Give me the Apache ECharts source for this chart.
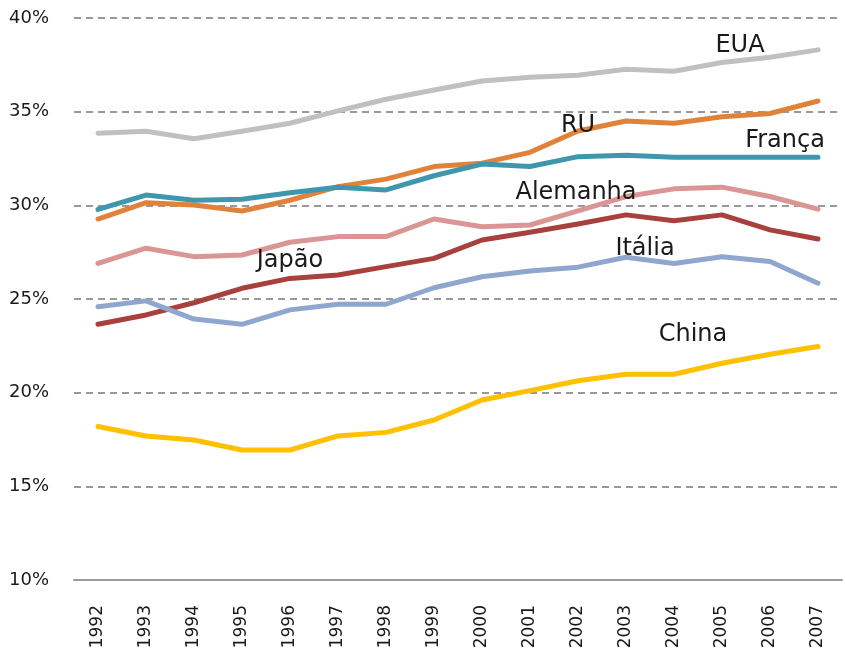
<!DOCTYPE html>
<html>
<head>
<meta charset="utf-8">
<script src="https://cdn.jsdelivr.net/npm/echarts@6/dist/echarts.min.js"></script>
<style>
  html, body { margin: 0; padding: 0; background: #fff; }
  #chart { width: 845px; height: 656px; }
</style>
</head>
<body>
<div id="chart"></div>
<script>
// dados (% )
const anos = ['1992', '1993', '1994', '1995', '1996', '1997', '1998', '1999',
  '2000', '2001', '2002', '2003', '2004', '2005', '2006', '2007'];

const eua = [33.85, 33.95, 33.55, 33.95, 34.38, 35.04, 35.66, 36.16, 36.64, 36.84, 36.94, 37.26, 37.16, 37.62, 37.9, 38.3];
const ru = [29.27, 30.14, 30.02, 29.7, 30.27, 31.0, 31.4, 32.07, 32.25, 32.83, 33.97, 34.5, 34.38, 34.73, 34.9, 35.57];
const franca = [29.78, 30.55, 30.27, 30.33, 30.67, 30.96, 30.82, 31.58, 32.2, 32.07, 32.6, 32.67, 32.57, 32.57, 32.57, 32.57];
const alemanha = [26.9, 27.71, 27.26, 27.35, 28.03, 28.33, 28.33, 29.27, 28.86, 28.95, 29.7, 30.47, 30.88, 30.97, 30.47, 29.8];
const japao = [23.65, 24.15, 24.8, 25.57, 26.1, 26.28, 26.73, 27.17, 28.15, 28.56, 29.0, 29.49, 29.18, 29.49, 28.69, 28.2];
const italia = [24.59, 24.9, 23.93, 23.65, 24.42, 24.72, 24.72, 25.6, 26.19, 26.5, 26.7, 27.23, 26.9, 27.26, 27.0, 25.84];
const china = [18.19, 17.69, 17.47, 16.94, 16.94, 17.69, 17.88, 18.54, 19.61, 20.11, 20.64, 20.98, 20.98, 21.57, 22.05, 22.46];

// rótulos das séries: [ano, valor, deslocamento x]
const rotulos = {
  EUA: ['2005', 38.62, 18],
  RU: ['2002', 34.35, 0],
  'França': ['2006', 33.55, 15],
  Alemanha: ['2002', 30.77, -2],
  'Japão': ['1996', 27.14, 0],
  'Itália': ['2003', 27.78, 19],
  China: ['2004', 23.19, 19]
};

const fonte = '"DejaVu Sans", sans-serif';

function serie(nome, dados, cor) {
  const r = rotulos[nome];
  return {
    name: nome,
    type: 'line',
    data: dados,
    symbol: 'none',
    lineStyle: { width: 5, color: cor, cap: 'round', join: 'round' },
    itemStyle: { color: cor },
    markPoint: {
      symbol: 'circle',
      symbolSize: 0,
      silent: true,
      data: [{
        coord: [r[0], r[1]],
        label: {
          show: true,
          position: 'inside',
          offset: [r[2], 2],
          formatter: nome,
          color: '#1a1a1a',
          fontSize: 24,
          fontFamily: fonte
        }
      }]
    }
  };
}

const myChart = echarts.init(document.getElementById('chart'), null, { renderer: 'canvas' });

const option = {
  backgroundColor: '#fff',
  animation: false,
  grid: { left: 74, right: 3, top: 18, bottom: 76, containLabel: false },
  xAxis: {
    type: 'category',
    boundaryGap: true,
    data: anos,
    axisLine: { lineStyle: { color: '#9a9a9a', width: 2 } },
    axisTick: { show: false },
    axisLabel: {
      rotate: 90,
      margin: 25,
      color: '#1a1a1a',
      fontSize: 17,
      fontFamily: fonte
    }
  },
  yAxis: {
    type: 'value',
    min: 10,
    max: 40,
    interval: 5,
    axisLine: { show: false },
    axisTick: { show: false },
    axisLabel: {
      formatter: '{value}%',
      margin: 25,
      color: '#1a1a1a',
      fontSize: 18,
      fontFamily: fonte
    },
    splitLine: {
      lineStyle: { color: '#999999', width: 2, type: [7, 5] }
    }
  },
  series: [
    serie('EUA', eua, '#c0c0c0'),
    serie('RU', ru, '#e0823a'),
    serie('França', franca, '#3f97ae'),
    serie('Alemanha', alemanha, '#da9694'),
    serie('Japão', japao, '#a8403e'),
    serie('Itália', italia, '#8fa7cf'),
    serie('China', china, '#ffc000')
  ]
};

myChart.setOption(option);
</script>
</body>
</html>
